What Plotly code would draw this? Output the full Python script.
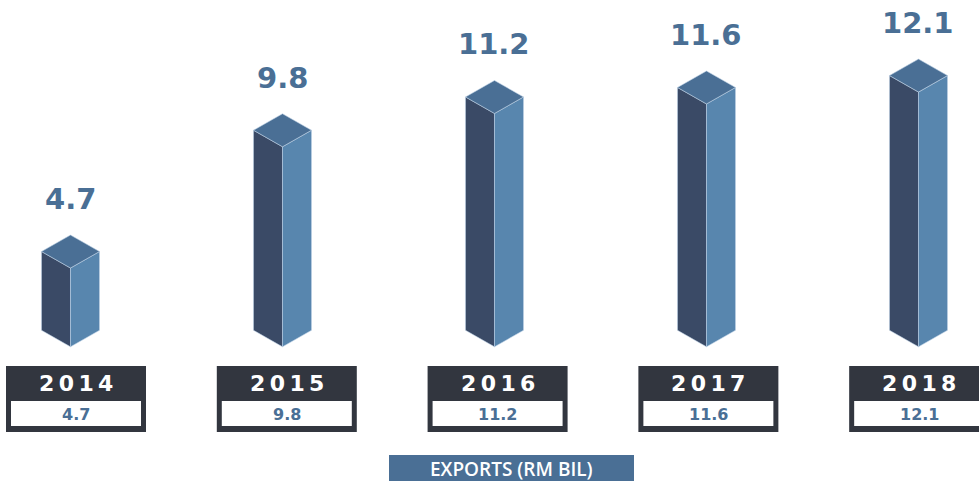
import plotly.graph_objects as go

# ---- data ----
years = ["2014", "2015", "2016", "2017", "2018"]
exports = [4.7, 9.8, 11.2, 11.6, 12.1]
value_labels = ["4.7", "9.8", "11.2", "11.6", "12.1"]
series_name = "EXPORTS (RM BIL)"

# ---- styling ----
W, H = 979, 481
C_LEFT = "#3a4a66"
C_RIGHT = "#5886ae"
C_TOP = "#4a6f95"
C_TEXT = "#4a6f95"
C_BOX = "#32363f"
C_EDGE = "rgba(190,210,230,0.7)"

# axis ranges (category index on x, value on y)
X_RANGE = [-0.3325, 4.2854]
Y_RANGE = [-5.643, 14.584]
px_per_x = W / (X_RANGE[1] - X_RANGE[0])
px_per_y = H / (Y_RANGE[1] - Y_RANGE[0])

HW = 29 / px_per_x      # half width of prism
DD = 16.5 / px_per_y    # diamond half-height

fig = go.Figure()

for i, (yr, v) in enumerate(zip(years, exports)):
    xc = i
    # left face
    fig.add_trace(go.Scatter(
        x=[xc - HW, xc, xc, xc - HW, xc - HW],
        y=[v - DD, v - 2 * DD, 0, DD, v - DD],
        mode="lines", fill="toself", fillcolor=C_LEFT,
        line=dict(color=C_EDGE, width=0.8), hoverinfo="skip", showlegend=False))
    # right face
    fig.add_trace(go.Scatter(
        x=[xc + HW, xc, xc, xc + HW, xc + HW],
        y=[v - DD, v - 2 * DD, 0, DD, v - DD],
        mode="lines", fill="toself", fillcolor=C_RIGHT,
        line=dict(color=C_EDGE, width=0.8), hoverinfo="skip", showlegend=False))
    # top face
    fig.add_trace(go.Scatter(
        x=[xc, xc + HW, xc, xc - HW, xc],
        y=[v, v - DD, v - 2 * DD, v - DD, v],
        mode="lines", fill="toself", fillcolor=C_TOP,
        line=dict(color=C_EDGE, width=0.8), hoverinfo="skip", showlegend=False))

    # value label above bar
    fig.add_annotation(x=xc, y=v, text=value_labels[i], showarrow=False,
                       yshift=36, yanchor="middle", xanchor="center",
                       font=dict(family="DejaVu Sans", size=29, color=C_TEXT, weight="bold"))

    # year box below
    bx = i * 0.9943 + 0.026
    bw = 70 / px_per_x
    fig.add_shape(type="rect", xref="x", yref="paper",
                  x0=bx - bw, x1=bx + bw, y0=1 - 432 / H, y1=1 - 366 / H,
                  fillcolor=C_BOX, line=dict(width=0), layer="below")
    iw = 65 / px_per_x
    fig.add_shape(type="rect", xref="x", yref="paper",
                  x0=bx - iw, x1=bx + iw, y0=1 - 426 / H, y1=1 - 401 / H,
                  fillcolor="white", line=dict(width=0), layer="below")
    fig.add_annotation(x=bx, y=1 - 383 / H, xref="x", yref="paper",
                       text="\u2009".join(yr), showarrow=False,
                       xanchor="center", yanchor="middle",
                       font=dict(family="DejaVu Sans", size=22, color="white", weight="bold"))
    fig.add_annotation(x=bx, y=1 - 414.5 / H, xref="x", yref="paper",
                       text=value_labels[i], showarrow=False,
                       xanchor="center", yanchor="middle",
                       font=dict(family="DejaVu Sans", size=16, color=C_TEXT, weight="bold"))

# series label box
fig.add_shape(type="rect", xref="paper", yref="paper",
              x0=389 / W, x1=634 / W, y0=0, y1=1 - 455 / H,
              fillcolor="#4a6f95", line=dict(width=0))
fig.add_annotation(x=511.5 / W, y=1 - 469 / H, xref="paper", yref="paper",
                   text=series_name, showarrow=False, xanchor="center", yanchor="middle",
                   font=dict(family="Open Sans", size=19, color="white", weight=600))

fig.update_layout(
    width=W, height=H,
    margin=dict(l=0, r=0, t=0, b=0),
    paper_bgcolor="white", plot_bgcolor="white",
    xaxis=dict(range=X_RANGE, visible=False, fixedrange=True),
    yaxis=dict(range=Y_RANGE, visible=False, fixedrange=True),
    showlegend=False,
)

fig.write_html(
    "out.html",
    config={"displayModeBar": False},
    post_script="document.body.style.margin='0';document.body.style.overflow='hidden';",
)
